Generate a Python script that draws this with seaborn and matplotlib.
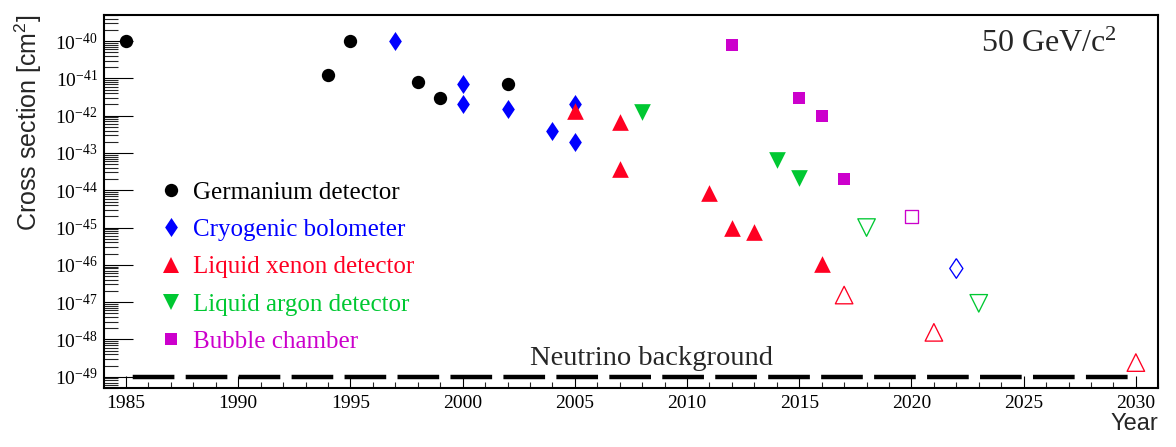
import numpy as np
import matplotlib
matplotlib.use("Agg")
import matplotlib.pyplot as plt
import seaborn as sns
from matplotlib.ticker import FixedLocator, NullFormatter, MultipleLocator
from matplotlib.lines import Line2D

# ---------------- data ----------------
ge_year = [1985, 1994, 1995, 1998, 1999, 2002]
ge_xsec = [1e-40, 1.2e-41, 1e-40, 8e-42, 3e-42, 7e-42]

cryo_year = [1997, 2000, 2000, 2002, 2004, 2005, 2005]
cryo_xsec = [1e-40, 7e-42, 2e-42, 1.5e-42, 4e-43, 2e-42, 2e-43]
cryo_future_year = [2022]
cryo_future_xsec = [8e-47]

xe_year = [2005, 2007, 2007, 2011, 2012, 2013, 2016]
xe_xsec = [1.3e-42, 6.6e-43, 3.8e-44, 8.5e-45, 9.5e-46, 7.8e-46, 1.05e-46]
xe_future_year = [2017, 2021, 2030]
xe_future_xsec = [1.55e-47, 1.55e-48, 2.4e-49]

ar_year = [2008, 2014, 2015]
ar_xsec = [1.25e-42, 6.5e-44, 2.1e-44]
ar_future_year = [2018, 2023]
ar_future_xsec = [1e-45, 9.3e-48]

bc_year = [2012, 2015, 2016, 2017]
bc_xsec = [8e-41, 2.9e-42, 1e-42, 2e-44]
bc_future_year = [2020]
bc_future_xsec = [1.95e-45]

nu_years = [1985, 2030]
nu_floor = [1e-49, 1e-49]

labels = ["Germanium detector", "Cryogenic bolometer", "Liquid xenon detector",
          "Liquid argon detector", "Bubble chamber"]

decade_exponents = list(range(-49, -39))   # 10^-49 ... 10^-40

# ---------------- style ----------------
sns.set_theme(style="ticks")
plt.rcParams["font.family"] = ["Liberation Serif", "DejaVu Serif"]
plt.rcParams["mathtext.fontset"] = "custom"
plt.rcParams["mathtext.rm"] = "Liberation Serif"
plt.rcParams["axes.linewidth"] = 1.5
plt.rcParams["axes.edgecolor"] = "black"

C_BLACK = "#000000"
C_BLUE = "#0000FF"
C_RED = "#FF0022"
C_GREEN = "#00C832"
C_MAG = "#CC00CC"

DIAMOND = [(0, 1), (0.67, 0), (0, -1), (-0.67, 0), (0, 1)]

fig = plt.figure(figsize=(11.76, 4.47), dpi=100)
ax = fig.add_axes([0.08844, 0.13132, 0.89651, 0.83512])
ax.set_yscale("log")

# neutrino floor
sns.lineplot(x=nu_years, y=nu_floor, ax=ax, color="black", lw=3.2,
             linestyle=(10.4, (9.375, 2.54)), zorder=2)

def filled(x, y, marker, s, color):
    sns.scatterplot(x=x, y=y, ax=ax, marker=marker, s=s, color=color,
                    edgecolor=color, linewidth=0, zorder=3)

def hollow(x, y, marker, s, color):
    sns.scatterplot(x=x, y=y, ax=ax, marker=marker, s=s, facecolor="none",
                    edgecolor=color, linewidth=0.95, zorder=3)

filled(ge_year, ge_xsec, "o", 92, C_BLACK)
filled(cryo_year, cryo_xsec, DIAMOND, 187, C_BLUE)
filled(xe_year, xe_xsec, "^", 144, C_RED)
filled(ar_year, ar_xsec, "v", 144, C_GREEN)
filled(bc_year, bc_xsec, "s", 79, C_MAG)

hollow(cryo_future_year, cryo_future_xsec, DIAMOND, 200, C_BLUE)
hollow(xe_future_year, xe_future_xsec, "^", 159, C_RED)
hollow(ar_future_year, ar_future_xsec, "v", 159, C_GREEN)
hollow(bc_future_year, bc_future_xsec, "s", 88, C_MAG)

# axes ranges
ylo, yhi = 10 ** -49.31, 10 ** -39.30
ax.set_xlim(1984.02, 2031.0)
ax.set_ylim(ylo, yhi)

ax.xaxis.set_major_locator(MultipleLocator(5))
ax.xaxis.set_minor_locator(MultipleLocator(1))
major_y = [10.0 ** e for e in decade_exponents]
minor_y = [m * 10.0 ** e for e in range(-50, -39) for m in range(2, 10)
           if ylo <= m * 10.0 ** e <= yhi]
ax.yaxis.set_major_locator(FixedLocator(major_y))
ax.yaxis.set_minor_locator(FixedLocator(minor_y))
ax.yaxis.set_major_formatter(
    plt.FuncFormatter(lambda v, p: r"$\mathdefault{10^{%d}}$" % int(round(np.log10(v)))))
ax.yaxis.set_minor_formatter(NullFormatter())

ax.tick_params(axis="y", which="major", direction="in", length=21, width=0.8,
               left=True, right=False, pad=4.5, labelsize=14, colors="black")
ax.tick_params(axis="y", which="minor", direction="in", length=10.3, width=0.8,
               left=True, right=False)
ax.tick_params(axis="x", which="major", direction="in", length=8.4, width=0.8,
               bottom=True, top=False, pad=4.5, labelsize=14, colors="black")
ax.tick_params(axis="x", which="minor", direction="in", length=4.1, width=0.8,
               bottom=True, top=False)
for sp in ax.spines.values():
    sp.set_visible(True)
    sp.set_linewidth(1.5)
    sp.set_color("black")

ax.set_ylabel(r"Cross section [cm$\mathregular{^2}$]", family="Liberation Sans",
              fontsize=18, loc="top")
ax.yaxis.set_label_coords(-0.057, 1.0)
ax.set_xlabel("Year", family="Liberation Sans", fontsize=17, loc="right")
ax.xaxis.set_label_coords(1.0, -0.066)

ax.text(0.961, 0.9017, r"50 GeV/c$\mathregular{^2}$", transform=ax.transAxes,
        ha="right", va="baseline", fontsize=23)
ax.text(0.404, 0.0624, "Neutrino background", transform=ax.transAxes,
        ha="left", va="baseline", fontsize=20.5)

# legend
handles = [
    Line2D([], [], ls="none", marker="o", ms=9.6, color=C_BLACK, mew=0),
    Line2D([], [], ls="none", marker=DIAMOND, ms=13.7, color=C_BLUE, mew=0),
    Line2D([], [], ls="none", marker="^", ms=12, color=C_RED, mew=0),
    Line2D([], [], ls="none", marker="v", ms=12, color=C_GREEN, mew=0),
    Line2D([], [], ls="none", marker="s", ms=8.9, color=C_MAG, mew=0),
]
leg = ax.legend(handles, labels, loc="upper left", bbox_to_anchor=(0.0541, 0.554),
                frameon=False, fontsize=18, borderpad=0, borderaxespad=0,
                handlelength=0.8, handletextpad=0.48, labelspacing=0.59,
                labelcolor=[C_BLACK, C_BLUE, C_RED, C_GREEN, C_MAG])

fig.savefig("out.png", dpi=100)
